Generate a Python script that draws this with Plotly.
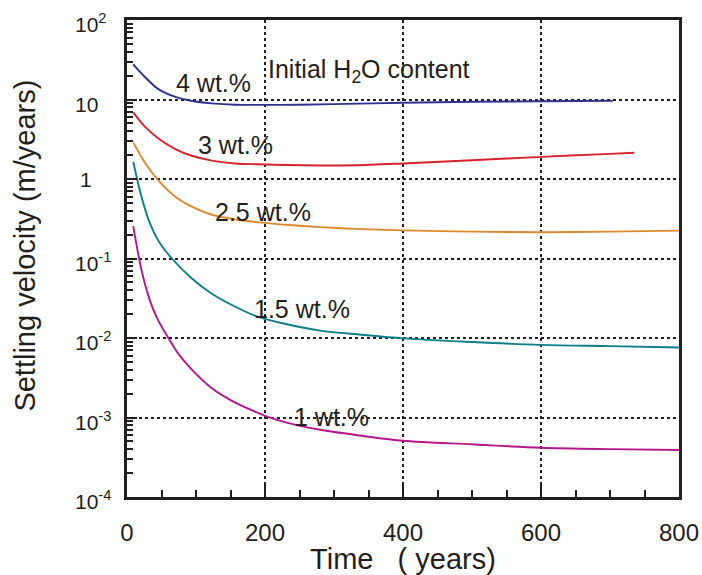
import math
import plotly.graph_objects as go

# ---------------- data ----------------
t_4 = [9, 26, 45, 70, 94, 123, 157, 190, 250, 300, 400, 500, 600, 704]
v_4 = [27.7, 19.2, 13.6, 10.8, 9.57, 8.95, 8.6, 8.55, 8.6, 8.75, 9.1, 9.35, 9.5, 9.65]

t_3 = [9, 26, 45, 70, 94, 123, 157, 190, 230, 280, 330, 400, 500, 600, 700, 735]
v_3 = [6.9, 4.55, 3.25, 2.38, 1.96, 1.70, 1.57, 1.53, 1.50, 1.48, 1.49, 1.57, 1.72, 1.9, 2.07, 2.14]

t_25 = [9, 26, 45, 70, 94, 123, 157, 195, 240, 280, 330, 400, 500, 600, 700, 800]
v_25 = [2.89, 1.6, 0.97, 0.60, 0.45, 0.355, 0.31, 0.283, 0.262, 0.248, 0.236, 0.226, 0.218, 0.214, 0.218, 0.224]

t_15 = [9, 21, 33, 45, 65, 94, 123, 152, 186, 230, 280, 340, 400, 500, 600, 700, 800]
v_15 = [1.65, 0.6, 0.28, 0.17, 0.1, 0.056, 0.036, 0.026, 0.019, 0.015, 0.0124, 0.011, 0.0099,
        0.0089, 0.0082, 0.0079, 0.0076]

t_1 = [9, 21, 33, 45, 60, 74, 94, 123, 152, 186, 200, 230, 280, 340, 400, 500, 600, 700, 800]
v_1 = [0.256, 0.0716, 0.030, 0.0168, 0.01, 0.0064, 0.004, 0.00233, 0.00162, 0.00118, 0.00105,
       0.00087, 0.0007, 0.00059, 0.00051, 0.00046, 0.000417, 0.0004, 0.00039]

series_names = ["4 wt.%", "3 wt.%", "2.5 wt.%", "1.5 wt.%", "1 wt.%"]
series_t = [t_4, t_3, t_25, t_15, t_1]
series_v = [v_4, v_3, v_25, v_15, v_1]
series_colors = ["#2e3192", "#d9232e", "#e0892c", "#0c7f89", "#b5178c"]

# label anchor positions (time, velocity)
label_t = [125, 157, 197, 254, 296]
label_v = [16.1, 2.68, 0.385, 0.0232, 0.00101]

title_label = "Initial H<sub>2</sub>O content"
title_label_t = 202
title_label_v = 22.9

x_ticks = [0, 200, 400, 600, 800]
y_tick_vals = [1e-4, 1e-3, 1e-2, 1e-1, 1, 10, 100]
y_tick_text = ["10<sup>-4</sup>", "10<sup>-3</sup>", "10<sup>-2</sup>", "10<sup>-1</sup>",
               "1", "10", "10<sup>2</sup>"]

x_title = "Time   ( years)"
y_title = "Settling velocity (m/years)"

# ---------------- figure ----------------
FONT = "Liberation Sans, Arial, Helvetica, sans-serif"
INK = "#231f20"

fig = go.Figure()
for name, tt, vv, col in zip(series_names, series_t, series_v, series_colors):
    fig.add_trace(go.Scatter(x=tt, y=vv, mode="lines", name=name,
                             line=dict(color=col, width=1.9, shape="spline", smoothing=0.9),
                             showlegend=False))

annotations = []
for name, lt, lv in zip(series_names, label_t, label_v):
    annotations.append(dict(x=lt, y=math.log10(lv), xref="x", yref="y", text=name,
                            showarrow=False, font=dict(family=FONT, size=25, color=INK),
                            xanchor="center", yanchor="middle"))
annotations.append(dict(x=title_label_t, y=math.log10(title_label_v), xref="x", yref="y",
                        text=title_label, showarrow=False,
                        font=dict(family=FONT, size=25, color=INK),
                        xanchor="left", yanchor="middle"))

# y tick labels (left-aligned "10" bodies as in the reference)
for val, txt in zip(y_tick_vals, y_tick_text):
    if txt == "1":
        annotations.append(dict(x=0, xref="paper", y=math.log10(val), yref="y", text=txt,
                                showarrow=False, xanchor="center", xshift=-41, yshift=0,
                                font=dict(family=FONT, size=21, color=INK)))
    else:
        ys = -5 if "sup" not in txt else -3
        annotations.append(dict(x=0, xref="paper", y=math.log10(val), yref="y", text=txt,
                                showarrow=False, xanchor="left", xshift=-54, yshift=ys,
                                font=dict(family=FONT, size=21, color=INK)))

# y axis title
annotations.append(dict(x=0, xref="paper", xshift=-102, xanchor="center",
                        y=0.527, yref="paper", yanchor="middle", textangle=-90,
                        text=y_title, showarrow=False,
                        font=dict(family=FONT, size=29, color=INK)))

fig.update_layout(
    width=702, height=575,
    margin=dict(l=127, r=23, t=20, b=78),
    paper_bgcolor="white", plot_bgcolor="white",
    font=dict(family=FONT, color=INK),
    annotations=annotations,
)

fig.update_xaxes(
    range=[0, 800], tickmode="array", tickvals=x_ticks, automargin=False,
    ticks="inside", ticklen=12, tickwidth=2, tickcolor=INK,
    tickfont=dict(family=FONT, size=24, color=INK), ticklabelstandoff=12,
    showline=True, linecolor=INK, linewidth=2.5, mirror=True,
    showgrid=True, gridcolor=INK, gridwidth=1.5, griddash="dot",
    minor=dict(dtick=50, ticks="inside", ticklen=7, tickwidth=1.5, tickcolor=INK, showgrid=False),
    zeroline=False,
    title=dict(text=x_title, font=dict(family=FONT, size=29, color=INK), standoff=6),
)

fig.update_yaxes(
    type="log", range=[-4, 2], tickmode="array", tickvals=y_tick_vals, automargin=False,
    ticks="inside", ticklen=10, tickwidth=2, tickcolor=INK,
    showticklabels=False,
    showline=True, linecolor=INK, linewidth=2.5, mirror=True,
    showgrid=True, gridcolor=INK, gridwidth=1.5, griddash="dot",
    minor=dict(ticks="inside", ticklen=6, tickwidth=1.5, tickcolor=INK, showgrid=False, dtick="D1"),
    zeroline=False,
)

fig.write_html("out.html")
